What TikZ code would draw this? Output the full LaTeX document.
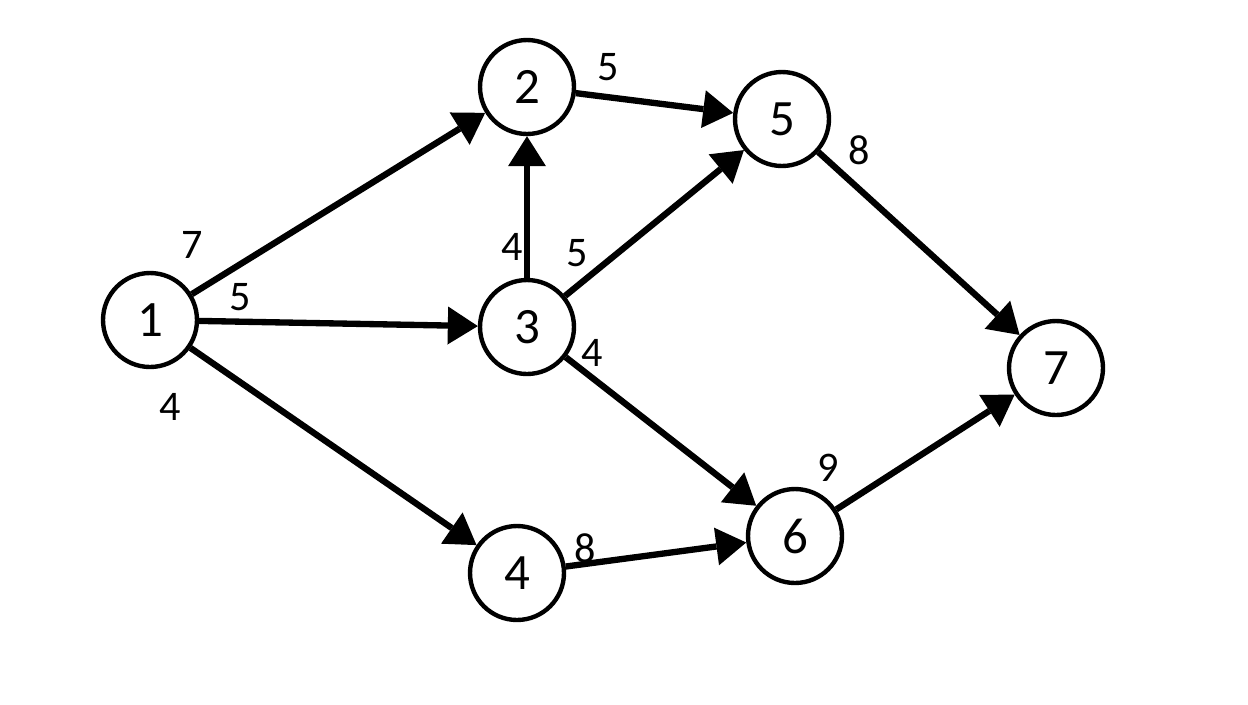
\documentclass[tikz,border=0pt]{standalone}
\usepackage{fontspec}
\setmainfont{Carlito}
\usetikzlibrary{arrows.meta}
\tikzset{
  vertex/.style={circle, draw=black, line width=2.5pt, minimum size=1.88cm, inner sep=0pt, font=\fontsize{29}{33}\selectfont},
  edge/.style={line width=3.6pt, -{Triangle[length=0.6cm,width=0.76cm,line width=0pt]}},
  wlabel/.style={font=\fontsize{24}{28}\selectfont, inner sep=0pt}
}
\begin{document}
\begin{tikzpicture}[x=0.02cm,y=-0.02cm]
\useasboundingbox[fill=white] (0,0) rectangle (1248,704);
\node[vertex] (n1) at (150,320) {1};
\node[vertex] (n2) at (527,87) {2};
\node[vertex] (n3) at (527,327) {3};
\node[vertex] (n4) at (517,573) {4};
\node[vertex] (n5) at (782,119) {5};
\node[vertex] (n6) at (795,536) {6};
\node[vertex] (n7) at (1056,368) {7};
\draw[edge] (n1) -- (n2);
\draw[edge] (n1) -- (n3);
\draw[edge] (n1) -- (n4);
\draw[edge] (n2) -- (n5);
\draw[edge] (n3) -- (n2);
\draw[edge] (n3) -- (n5);
\draw[edge] (n3) -- (n6);
\draw[edge] (n4) -- (n6);
\draw[edge] (n5) -- (n7);
\draw[edge] (n6) -- (n7);
\node[wlabel] (l12) at (192,245) {7};
\node[wlabel] (l13) at (240,297) {5};
\node[wlabel] (l14) at (170,407) {4};
\node[wlabel] (l25) at (608,67) {5};
\node[wlabel] (l32) at (512,247) {4};
\node[wlabel] (l35) at (577,253) {5};
\node[wlabel] (l36) at (592,353) {4};
\node[wlabel] (l46) at (585,548) {8};
\node[wlabel] (l67) at (828,468) {9};
\node[wlabel] (l57) at (859,150) {8};
\end{tikzpicture}
\end{document}
